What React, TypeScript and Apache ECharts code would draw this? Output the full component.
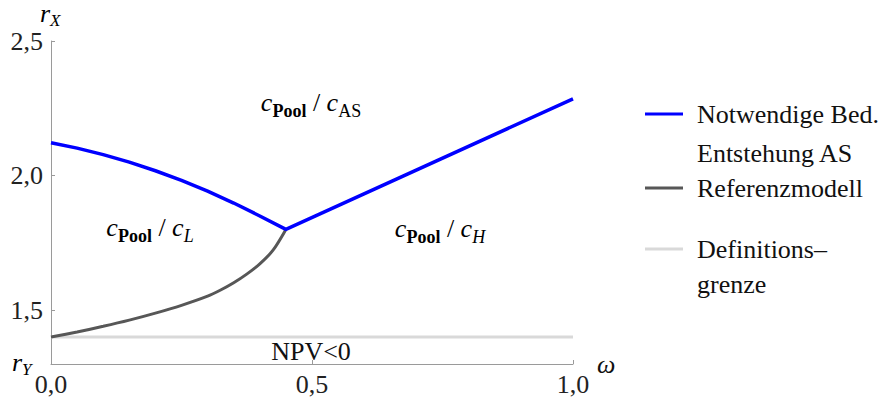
import React, { useEffect, useRef } from 'react';
import * as echarts from 'echarts';

const SERIF = 'Liberation Serif';
const BLUE = '#0000ff';
const DARK = '#575757';
const LIGHT = '#d9d9d9';
const AXIS = '#9a9a9a';
const FS = 26;

// Notwendige Bedingung (Entstehung AS): curve up to the kink, then straight to ω = 1
const omegaAS = [0, 0.05, 0.1, 0.15, 0.2, 0.25, 0.3, 0.35, 0.4, 0.45, 1.0];
const rAS = [2.122, 2.102, 2.078, 2.05, 2.018, 1.982, 1.942, 1.898, 1.85, 1.8, 2.285];

// Referenzmodell
const omegaRef = [0, 0.05, 0.1, 0.15, 0.2, 0.25, 0.3, 0.325, 0.35, 0.375, 0.4, 0.425, 0.45];
const rRef = [1.4, 1.419, 1.44, 1.463, 1.489, 1.518, 1.552, 1.575, 1.602, 1.634, 1.672, 1.722, 1.8];

// Definitionsgrenze
const omegaDef = [0, 1];
const rDef = [1.4, 1.4];

const xTicks = [0, 0.5, 1];
const yTicks = [1.5, 2.0, 2.5];

const fmt = (v: number) => v.toFixed(1).replace('.', ',');

const pairs = (xs: number[], ys: number[]) => xs.map((x, i) => [x, ys[i]]);

const subRich = {
  c: { fontFamily: SERIF, fontSize: FS, fontStyle: 'italic', lineHeight: 28, verticalAlign: 'top', fill: '#000' },
  p: { fontFamily: SERIF, fontSize: 18, fontWeight: 'bold', lineHeight: 18, padding: [13, 0, 0, 0], verticalAlign: 'top', fill: '#000' },
  m: { fontFamily: SERIF, fontSize: FS, lineHeight: 28, verticalAlign: 'top', fill: '#000' },
  s: { fontFamily: SERIF, fontSize: 18, lineHeight: 18, padding: [13, 0, 0, 0], verticalAlign: 'top', fill: '#000' },
  si: { fontFamily: SERIF, fontSize: 18, fontStyle: 'italic', lineHeight: 18, padding: [13, 0, 0, 0], verticalAlign: 'top', fill: '#000' },
  ax: { fontFamily: SERIF, fontSize: 17, fontStyle: 'italic', lineHeight: 17, padding: [12, 0, 0, 0], verticalAlign: 'top', fill: '#000' },
};

const richText = (text: string, x: number, y: number, align: string) => ({
  type: 'text',
  x,
  y,
  style: { text, rich: subRich, align, verticalAlign: 'top', fill: '#000' },
  z: 10,
});

const plainText = (text: string, x: number, y: number, extra: any = {}) => ({
  type: 'text',
  x,
  y,
  style: {
    text,
    fontFamily: SERIF,
    fontSize: FS,
    fill: '#111',
    align: 'left',
    verticalAlign: 'middle',
    ...extra,
  },
  z: 10,
});

const legendLine = (y: number, color: string) => ({
  type: 'line',
  shape: { x1: 645, y1: y, x2: 683, y2: y },
  style: { stroke: color, lineWidth: 3 },
});

export default function App() {
  const ref = useRef<HTMLDivElement>(null);

  useEffect(() => {
    const chart = echarts.init(ref.current!, null, { renderer: 'svg' });
    chart.setOption({
      animation: false,
      backgroundColor: '#ffffff',
      textStyle: { fontFamily: SERIF },
      grid: { left: 51, right: 307, top: 41, bottom: 34, outerBoundsMode: 'none' },
      xAxis: {
        type: 'value',
        min: 0,
        max: 1,
        interval: 0.5,
        axisLine: { show: true, lineStyle: { color: AXIS, width: 1 } },
        axisTick: { show: true, inside: true, length: 4, lineStyle: { color: AXIS } },
        splitLine: { show: false },
        axisLabel: {
          customValues: xTicks,
          formatter: fmt,
          fontFamily: SERIF,
          fontSize: FS,
          color: '#222',
          margin: 7,
        },
      },
      yAxis: {
        type: 'value',
        min: 1.3,
        max: 2.5,
        axisLine: { show: true, lineStyle: { color: AXIS, width: 1 } },
        axisTick: { show: true, inside: true, length: 4, customValues: yTicks, lineStyle: { color: AXIS } },
        splitLine: { show: false },
        axisLabel: {
          customValues: yTicks,
          formatter: fmt,
          fontFamily: SERIF,
          fontSize: FS,
          color: '#222',
          margin: 8,
        },
      },
      series: [
        {
          name: 'Definitionsgrenze',
          type: 'line',
          data: pairs(omegaDef, rDef),
          showSymbol: false,
          lineStyle: { color: LIGHT, width: 3 },
          z: 2,
        },
        {
          name: 'Referenzmodell',
          type: 'line',
          data: pairs(omegaRef, rRef),
          showSymbol: false,
          smooth: 0.3,
          lineStyle: { color: DARK, width: 3 },
          z: 3,
        },
        {
          name: 'Notwendige Bed. Entstehung AS',
          type: 'line',
          data: pairs(omegaAS, rAS),
          showSymbol: false,
          lineStyle: { color: BLUE, width: 3.5 },
          z: 4,
        },
      ],
      graphic: [
        // axis titles
        richText('{c|r}{ax|X}', 40, 0, 'left'),
        richText('{c|r}{ax|Y}', 12, 349, 'left'),
        plainText('ω', 597, 364, { fontStyle: 'italic' }),
        // region labels
        richText('{c|c}{p|Pool}{m| / }{c|c}{s|AS}', 311, 89, 'center'),
        richText('{c|c}{p|Pool}{m| / }{c|c}{si|L}', 150, 214, 'center'),
        richText('{c|c}{p|Pool}{m| / }{c|c}{si|H}', 440, 215, 'center'),
        plainText('NPV<0', 311, 351, { align: 'center' }),
        // legend
        legendLine(114, BLUE),
        legendLine(188, DARK),
        legendLine(249, LIGHT),
        plainText('Notwendige Bed.', 697, 114.5),
        plainText('Entstehung AS', 697, 153),
        plainText('Referenzmodell', 697, 188),
        plainText('Definitions\u2013', 697, 249.5),
        plainText('grenze', 697, 284.5),
      ],
    });
    return () => chart.dispose();
  }, []);

  return (
    <div
      ref={ref}
      style={{ position: 'fixed', left: 0, top: 0, width: 880, height: 398, background: '#fff' }}
    />
  );
}
